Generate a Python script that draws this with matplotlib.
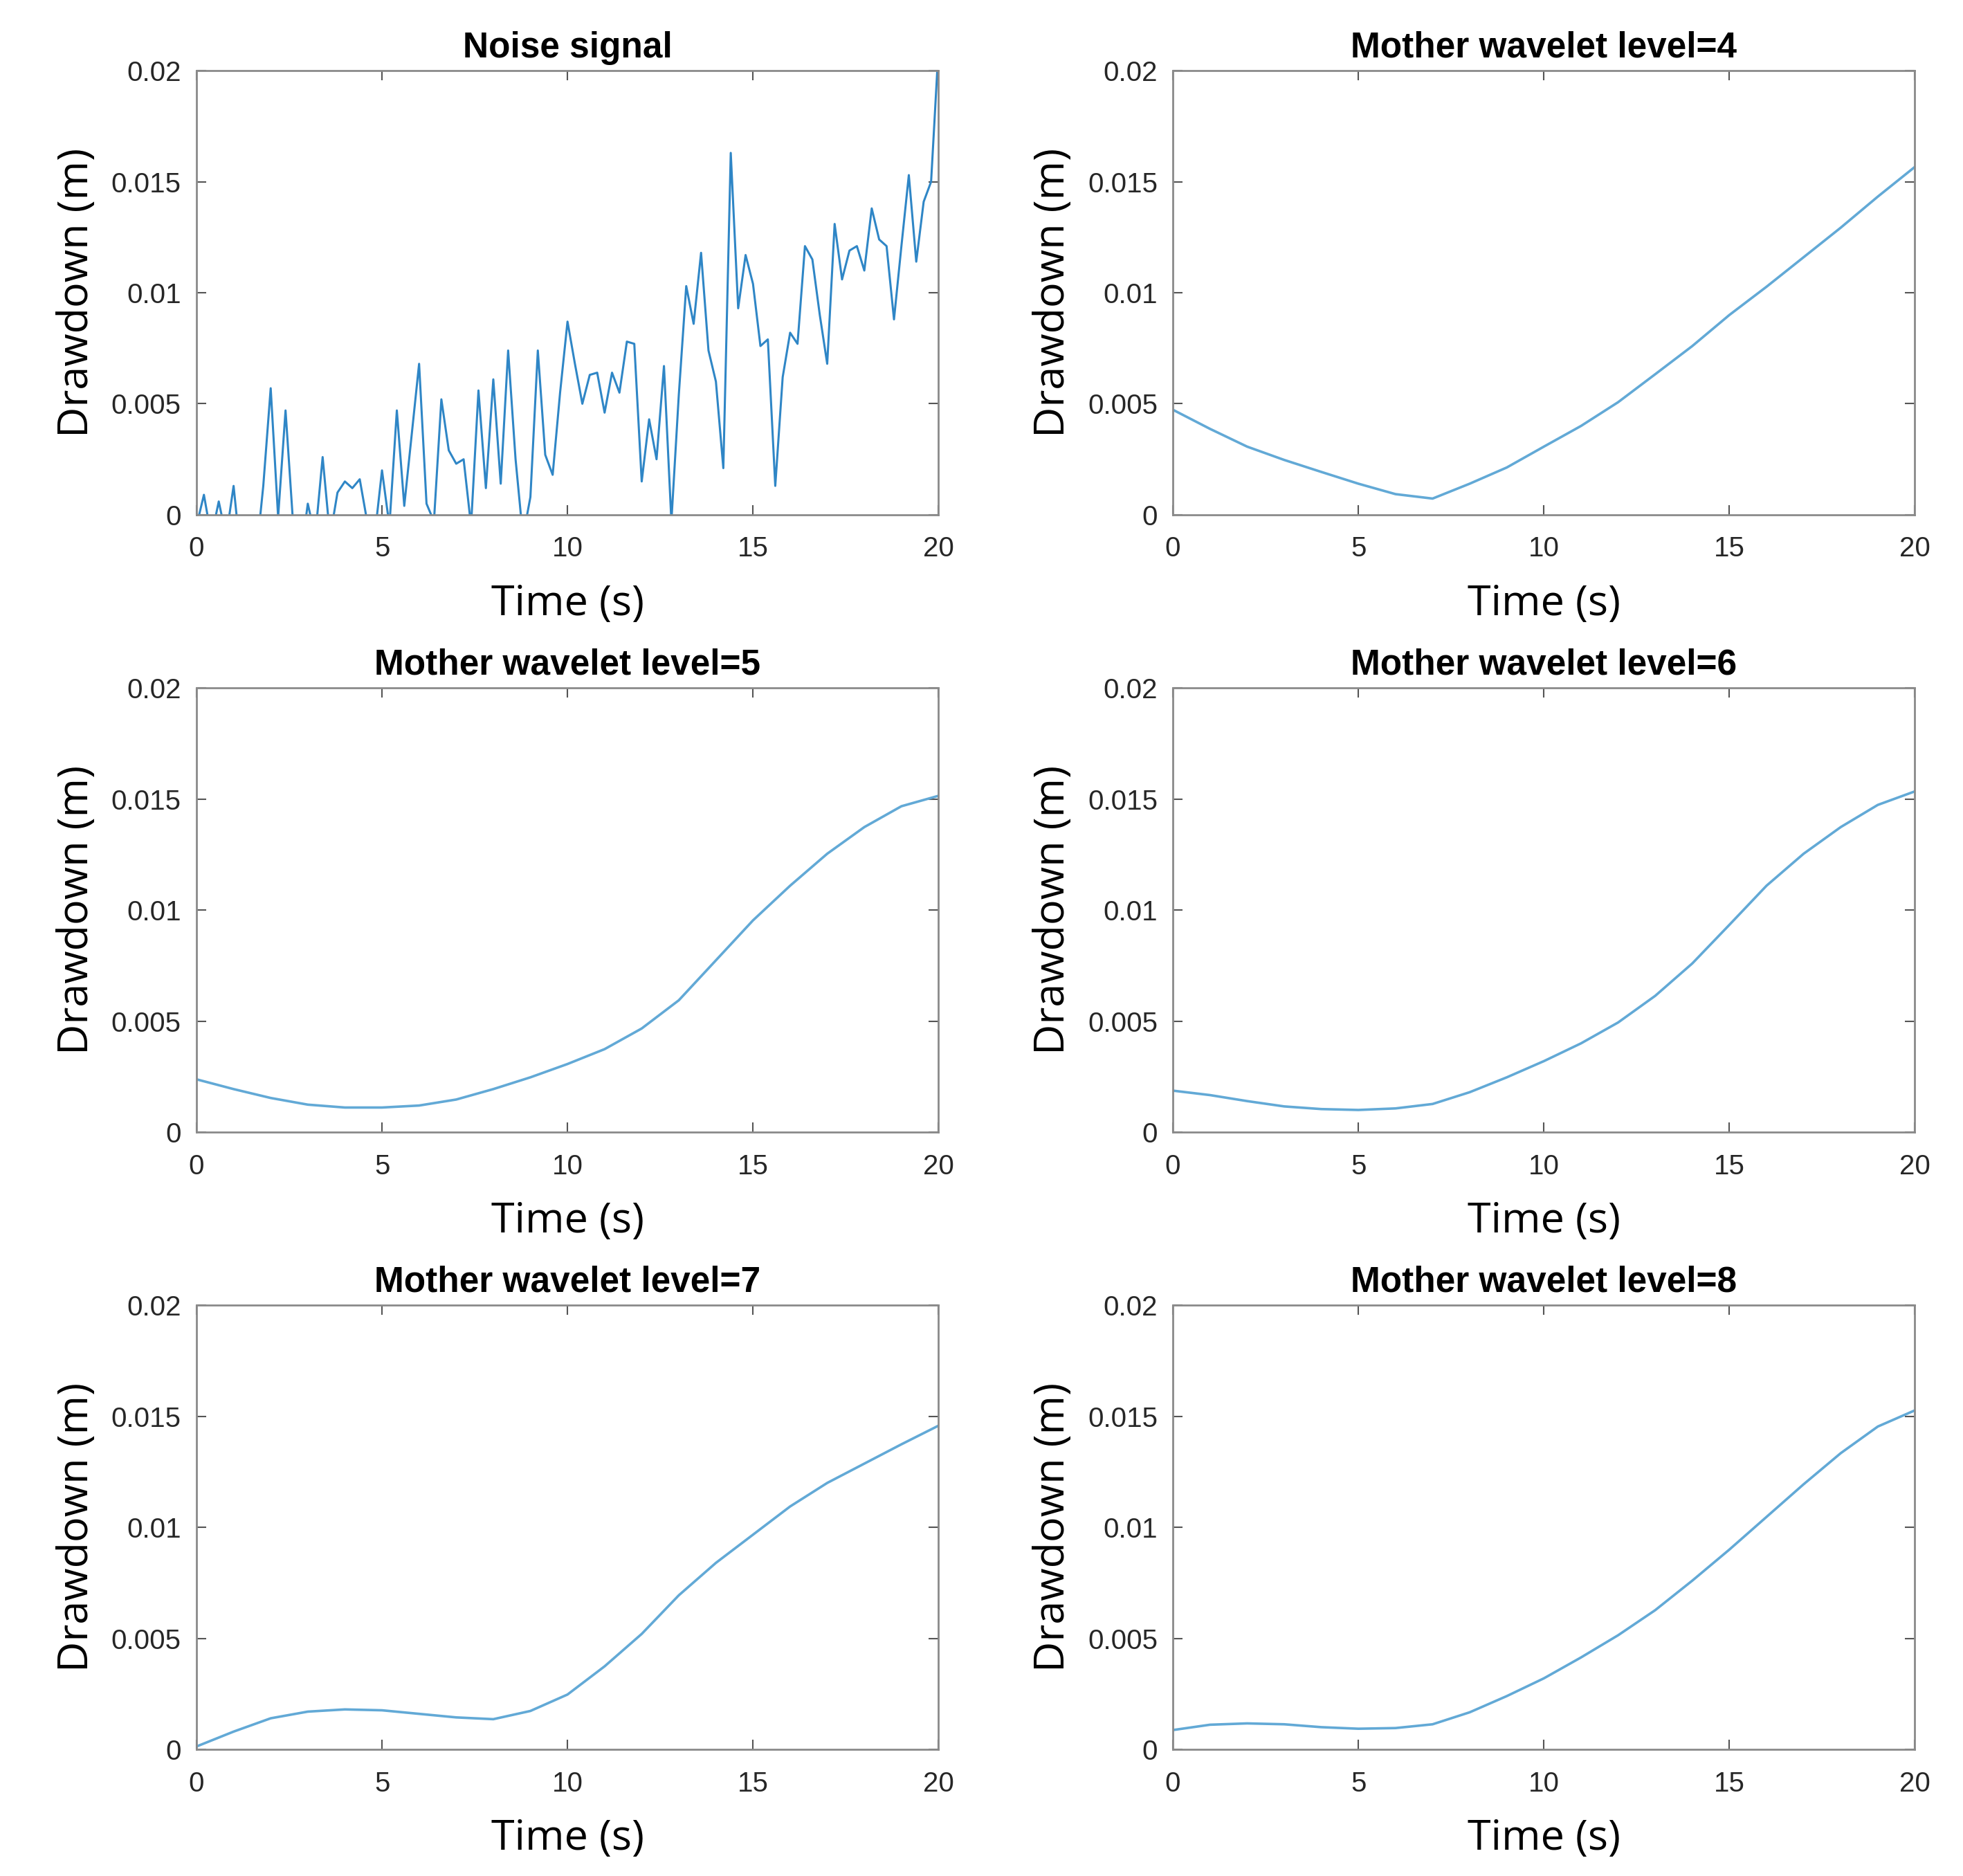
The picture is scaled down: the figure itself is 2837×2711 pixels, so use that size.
import matplotlib
matplotlib.use('Agg')
import matplotlib.pyplot as plt
import numpy as np

# noise signal, sampled every 0.2 s (values below 0 are clipped by the axis)
noise_t = np.round(np.arange(0, 20.01, 0.2), 1)
noise_v = [
    -0.0005, 0.0009, -0.001, 0.0006, -0.001, 0.0013, -0.002, -0.003, -0.002, 0.0013,
    0.0057, -0.0001, 0.0047, -0.0003, -0.002, 0.0005, -0.001, 0.0026, -0.001, 0.001,
    0.0015, 0.0012, 0.0016, -0.0003, -0.001, 0.0020, -0.0005, 0.0047, 0.0004, 0.0036,
    0.0068, 0.0005, -0.0003, 0.0052, 0.0029, 0.0023, 0.0025, -0.0005, 0.0056, 0.0012,
    0.0061, 0.0014, 0.0074, 0.0025, -0.001, 0.0008, 0.0074, 0.0027, 0.0018, 0.0055,
    0.0087, 0.0068, 0.0050, 0.0063, 0.0064, 0.0046, 0.0064, 0.0055, 0.0078, 0.0077,
    0.0015, 0.0043, 0.0025, 0.0067, -0.0003, 0.0054, 0.0103, 0.0086, 0.0118, 0.0074,
    0.0060, 0.0021, 0.0163, 0.0093, 0.0117, 0.0104, 0.0076, 0.0079, 0.0013, 0.0062,
    0.0082, 0.0077, 0.0121, 0.0115, 0.0090, 0.0068, 0.0131, 0.0106, 0.0119, 0.0121,
    0.0110, 0.0138, 0.0124, 0.0121, 0.0088, 0.0121, 0.0153, 0.0114, 0.0141, 0.0150,
    0.0210,
]

# denoised curves, read every 1 s
t = np.arange(0, 21, 1)
level4 = [0.00473, 0.00387, 0.00307, 0.00247, 0.00193, 0.0014, 0.00093, 0.00073, 0.0014, 0.00213,
          0.00307, 0.0040, 0.00507, 0.00633, 0.0076, 0.0090, 0.01027, 0.0116, 0.01293, 0.01433, 0.01567]
level5 = [0.00238, 0.00194, 0.00154, 0.00124, 0.00111, 0.00111, 0.0012, 0.00147, 0.00194, 0.00247,
          0.00307, 0.00374, 0.00467, 0.00594, 0.00774, 0.00954, 0.0111, 0.01254, 0.01374, 0.01468, 0.01515]
level6 = [0.00187, 0.00167, 0.0014, 0.00116, 0.00104, 0.0010, 0.00107, 0.00127, 0.0018, 0.00247,
          0.0032, 0.0040, 0.00494, 0.00614, 0.0076, 0.00934, 0.0111, 0.01254, 0.01374, 0.01474, 0.01535]
level7 = [0.00013, 0.0008, 0.0014, 0.0017, 0.0018, 0.00176, 0.0016, 0.00144, 0.00136, 0.00173,
          0.00247, 0.00374, 0.0052, 0.00694, 0.0084, 0.00967, 0.01094, 0.0120, 0.01287, 0.01374, 0.01458]
level8 = [0.00087, 0.00111, 0.00117, 0.00113, 0.0010, 0.00093, 0.00096, 0.00113, 0.00167, 0.0024,
          0.0032, 0.00414, 0.00514, 0.00627, 0.0076, 0.0090, 0.01047, 0.01194, 0.01334, 0.01454, 0.01527]

titles = ['Noise signal', 'Mother wavelet level=4', 'Mother wavelet level=5',
          'Mother wavelet level=6', 'Mother wavelet level=7', 'Mother wavelet level=8']
series = [(noise_t, noise_v), (t, level4), (t, level5), (t, level6), (t, level7), (t, level8)]

xticks = [0, 5, 10, 15, 20]
yticks = [0, 0.005, 0.01, 0.015, 0.02]
ytick_labels = ['0', '0.005', '0.01', '0.015', '0.02']

tick_font = ['Liberation Sans', 'DejaVu Sans']
label_font = ['Open Sans', 'DejaVu Sans']

fig = plt.figure(figsize=(28.37, 27.11), dpi=100)

lefts = [0.1001, 0.5975]
bottoms = [0.7256, 0.3965, 0.0675]
w, h = 0.378, 0.2367

for i, (x, y) in enumerate(series):
    row, col = i // 2, i % 2
    ax = fig.add_axes([lefts[col], bottoms[row], w, h])
    if i == 0:
        ax.plot(x, y, color='#2f86c6', linewidth=2.2)
    else:
        ax.plot(x, y, color='#62a9d6', linewidth=2.6)
    ax.set_xlim(0, 20)
    ax.set_ylim(0, 0.02)
    ax.set_xticks(xticks)
    ax.set_yticks(yticks)
    ax.set_yticklabels(ytick_labels)
    ax.tick_params(direction='in', length=10, width=1.5, color='#555555',
                   top=True, right=True, labelsize=29, labelcolor='#262626')
    ax.tick_params(axis='x', pad=22)
    ax.tick_params(axis='y', pad=16)
    for lab in ax.get_xticklabels() + ax.get_yticklabels():
        lab.set_family(tick_font)
    for s in ax.spines.values():
        s.set_color('#8a8a8a')
        s.set_linewidth(2)
    ax.set_title(titles[i], fontsize=37, fontweight='bold', family=tick_font, pad=14)
    ax.set_xlabel('Time (s)', fontsize=44, family=label_font, labelpad=22)
    ax.set_ylabel('Drawdown (m)', fontsize=44, family=label_font, labelpad=14)

fig.savefig('out.png', dpi=100, facecolor='white')
